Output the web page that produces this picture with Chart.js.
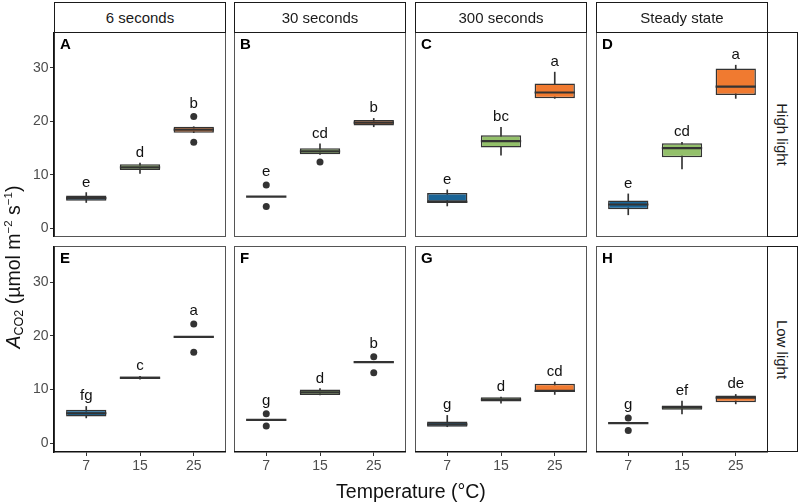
<!DOCTYPE html>
<html>
<head>
<meta charset="utf-8">
<script src="https://cdn.jsdelivr.net/npm/chart.js@4.4.0/dist/chart.umd.min.js"></script>
<style>
  body { margin: 0; background: #fff; }
  #fig { position: relative; width: 800px; height: 503px; font-family: 'Liberation Sans', Arial, sans-serif; color: #1a1a1a; overflow: hidden; }
  #fig canvas { position: absolute; }
  .strip { position: absolute; box-sizing: border-box; border: 1px solid #1a1a1a; background: #fff; font-size: 15px; display: flex; align-items: center; justify-content: center; }
  .strip.side span { transform: rotate(90deg); white-space: nowrap; }
  .title { position: absolute; font-size: 19.5px; text-align: center; white-space: nowrap; color: #111; }
  .title sub { font-size: 12.5px; vertical-align: -3px; }
  .title sup { font-size: 11.5px; vertical-align: 8px; }
</style>
</head>
<body>
<div id="fig"></div>
<script>
// facets
const timepoints = ['6 seconds', '30 seconds', '300 seconds', 'Steady state'];
const lights = ['High light', 'Low light'];
const temps = ['7', '15', '25'];
const panelTags = ['A', 'B', 'C', 'D', 'E', 'F', 'G', 'H'];
const yTicks = [0, 10, 20, 30];

// box stats per panel (A..H), one value per temperature
const lowWhisker = [
  [4.85, 10.3, 17.9],
  [5.95, 13.85, 19.0],
  [4.2, 13.7, 24.3],
  [2.55, 11.1, 24.3],
  [4.74, 11.95, 19.8],
  [4.37, 9.0, 15.1],
  [3.1, 7.5, 9.1],
  [3.75, 5.5, 7.35]
];
const lowerQuartile = [
  [5.15, 10.9, 17.9],
  [5.95, 13.85, 19.25],
  [4.97, 15.1, 24.3],
  [3.6, 13.3, 24.95],
  [4.99, 11.95, 19.8],
  [4.37, 9.0, 15.1],
  [3.1, 7.8, 9.55],
  [3.75, 6.24, 7.65]
];
const medians = [
  [5.65, 11.4, 18.45],
  [5.95, 14.4, 19.75],
  [4.97, 16.3, 25.4],
  [4.47, 15.0, 26.5],
  [5.6, 12.2, 19.8],
  [4.37, 9.5, 15.1],
  [3.55, 8.15, 9.75],
  [3.75, 6.7, 8.5]
];
const upperQuartile = [
  [6.15, 12.0, 19.0],
  [5.95, 15.0, 20.25],
  [6.6, 17.4, 27.1],
  [5.2, 15.9, 29.9],
  [6.24, 12.45, 19.8],
  [4.37, 10.0, 15.1],
  [4.05, 8.6, 11.1],
  [3.75, 7.05, 8.9]
];
const highWhisker = [
  [6.7, 12.2, 19.0],
  [5.95, 15.8, 20.55],
  [7.2, 18.9, 29.2],
  [6.45, 16.1, 30.5],
  [6.86, 12.45, 19.8],
  [4.37, 10.2, 15.1],
  [5.2, 8.6, 11.4],
  [3.75, 7.85, 9.1]
];
const outliers = [
  [[], [], [20.9, 16.1]],
  [[8.1, 4.1], [12.4], []],
  [[], [], []],
  [[], [], []],
  [[], [], [22.2, 16.95]],
  [[5.5, 3.25], [], [16.1, 13.15]],
  [[], [], []],
  [[4.7, 2.4], [], []]
];
const groupLetters = [
  ['e', 'd', 'b'],
  ['e', 'cd', 'b'],
  ['e', 'bc', 'a'],
  ['e', 'cd', 'a'],
  ['fg', 'c', 'a'],
  ['g', 'd', 'b'],
  ['g', 'd', 'cd'],
  ['g', 'ef', 'de']
];

const tempColors = ['#1a6496', '#93c06a', '#f07a30'];
const FONT = "'Liberation Sans', Arial, sans-serif";
const Y_MIN = -1.6, Y_MAX = 36.7;

// layout of the facet grid
const colLeft = [54, 234, 415, 596];
const rowTop = [32, 246];
const rowH = [205, 206];
const panelW = 172;
const AXIS_W = 30, AXIS_H = 32;

Chart.defaults.font.family = FONT;
const fig = document.getElementById('fig');

function extras(p) {
  return {
    id: 'boxExtras',
    beforeDraw(chart) {
      // panel frame goes under the axis lines
      const { ctx, chartArea: a } = chart;
      ctx.save();
      ctx.strokeStyle = '#555';
      ctx.lineWidth = 1;
      ctx.strokeRect(a.left + 0.5, a.top + 0.5, a.right - a.left - 1, a.bottom - a.top - 1);
      ctx.restore();
    },
    afterDatasetsDraw(chart) {
      const { ctx, scales: { x, y } } = chart;
      const boxes = chart.getDatasetMeta(1).data;
      ctx.save();
      ctx.strokeStyle = '#333';
      ctx.lineWidth = 2.2;
      medians[p].forEach((m, i) => {
        const bar = boxes[i];
        const py = y.getPixelForValue(m);
        ctx.beginPath();
        ctx.moveTo(bar.x - bar.width / 2, py);
        ctx.lineTo(bar.x + bar.width / 2, py);
        ctx.stroke();
      });
      ctx.fillStyle = '#111';
      ctx.font = '15px ' + FONT;
      ctx.textAlign = 'center';
      ctx.textBaseline = 'alphabetic';
      groupLetters[p].forEach((t, i) => {
        const out = outliers[p][i];
        const top = Math.max(highWhisker[p][i], ...out);
        const pad = top > highWhisker[p][i] ? 9 : 6;
        ctx.fillText(t, x.getPixelForValue(i + 1), y.getPixelForValue(top) - pad);
      });
      ctx.restore();
    },
    afterDraw(chart) {
      const { ctx, chartArea: a } = chart;
      ctx.save();
      ctx.fillStyle = '#000';
      ctx.font = 'bold 15px ' + FONT;
      ctx.textAlign = 'left';
      ctx.fillText(panelTags[p], a.left + 6, a.top + 17);
      ctx.restore();
    }
  };
}

for (let p = 0; p < 8; p++) {
  const r = Math.floor(p / 4), c = p % 4;
  const showY = c === 0, showX = r === 1;
  const cv = document.createElement('canvas');
  const w = panelW + (showY ? AXIS_W : 0);
  const h = rowH[r] + (showX ? AXIS_H : 0);
  cv.width = w; cv.height = h;
  cv.style.left = (colLeft[c] - (showY ? AXIS_W : 0)) + 'px';
  cv.style.top = rowTop[r] + 'px';
  fig.appendChild(cv);

  const outPts = [];
  outliers[p].forEach((vals, i) => vals.forEach(v => outPts.push({ x: i + 1, y: v })));

  new Chart(cv, {
    type: 'bar',
    data: {
      datasets: [
        {
          label: 'whisker',
          data: temps.map((t, i) => ({ x: i + 1, y: [lowWhisker[p][i], highWhisker[p][i]] })),
          backgroundColor: '#333',
          barThickness: 1,
          grouped: false,
          order: 2
        },
        {
          label: 'box',
          data: temps.map((t, i) => ({ x: i + 1, y: [lowerQuartile[p][i], upperQuartile[p][i]] })),
          backgroundColor: tempColors,
          borderColor: '#333',
          borderWidth: 1.5,
          borderSkipped: false,
          barPercentage: 0.75,
          categoryPercentage: 1,
          grouped: false,
          order: 1
        },
        {
          type: 'scatter',
          label: 'outlier',
          data: outPts,
          pointRadius: 3.5,
          backgroundColor: '#333',
          borderWidth: 0,
          order: 0
        }
      ]
    },
    options: {
      responsive: false,
      animation: false,
      layout: { padding: 0, autoPadding: false },
      plugins: { legend: { display: false }, tooltip: { enabled: false } },
      scales: {
        x: {
          type: 'linear', min: 0.4, max: 3.6, display: showX, offset: false,
          afterBuildTicks: ax => { ax.ticks = temps.map((t, i) => ({ value: i + 1 })); },
          afterFit: ax => {
            if (!showX) return;
            ax.height = AXIS_H; ax.paddingLeft = 0; ax.paddingRight = 0;
          },
          grid: { offset: false, drawOnChartArea: false, color: '#333', tickLength: 4 },
          border: { display: true, color: '#111', width: 1.5 },
          ticks: { color: '#4d4d4d', font: { size: 14 }, padding: 2, maxRotation: 0,
                   callback: v => temps[v - 1] }
        },
        y: {
          type: 'linear', min: Y_MIN, max: Y_MAX, display: showY,
          afterBuildTicks: ax => { ax.ticks = yTicks.map(v => ({ value: v })); },
          afterFit: ax => {
            if (!showY) return;
            ax.width = AXIS_W; ax.paddingTop = 0; ax.paddingBottom = 0;
          },
          grid: { drawOnChartArea: false, color: '#333', tickLength: 4 },
          border: { display: true, color: '#111', width: 1.5 },
          ticks: { color: '#4d4d4d', font: { size: 14 }, padding: 1.5 }
        }
      }
    },
    plugins: [extras(p)]
  });
}

// strips
timepoints.forEach((t, c) => {
  const d = document.createElement('div');
  d.className = 'strip';
  d.style.cssText = `left:${colLeft[c]}px;top:2px;width:${panelW}px;height:31px;`;
  d.textContent = t;
  fig.appendChild(d);
});
lights.forEach((t, r) => {
  const d = document.createElement('div');
  d.className = 'strip side';
  d.style.cssText = `left:${colLeft[3] + panelW - 1}px;top:${rowTop[r]}px;width:31px;height:${rowH[r]}px;`;
  d.innerHTML = `<span>${t}</span>`;
  fig.appendChild(d);
});

// axis titles
const yt = document.createElement('div');
yt.className = 'title';
yt.style.cssText = 'left:-202px;top:256px;width:420px;height:22px;line-height:22px;transform:rotate(-90deg);';
yt.innerHTML = '<i>A</i><sub>CO2</sub> (µmol m<sup>−2</sup> s<sup>−1</sup>)';
fig.appendChild(yt);

const xt = document.createElement('div');
xt.className = 'title';
xt.style.cssText = 'left:261px;top:480px;width:300px;height:22px;line-height:22px;';
xt.textContent = 'Temperature (°C)';
fig.appendChild(xt);
</script>
</body>
</html>
